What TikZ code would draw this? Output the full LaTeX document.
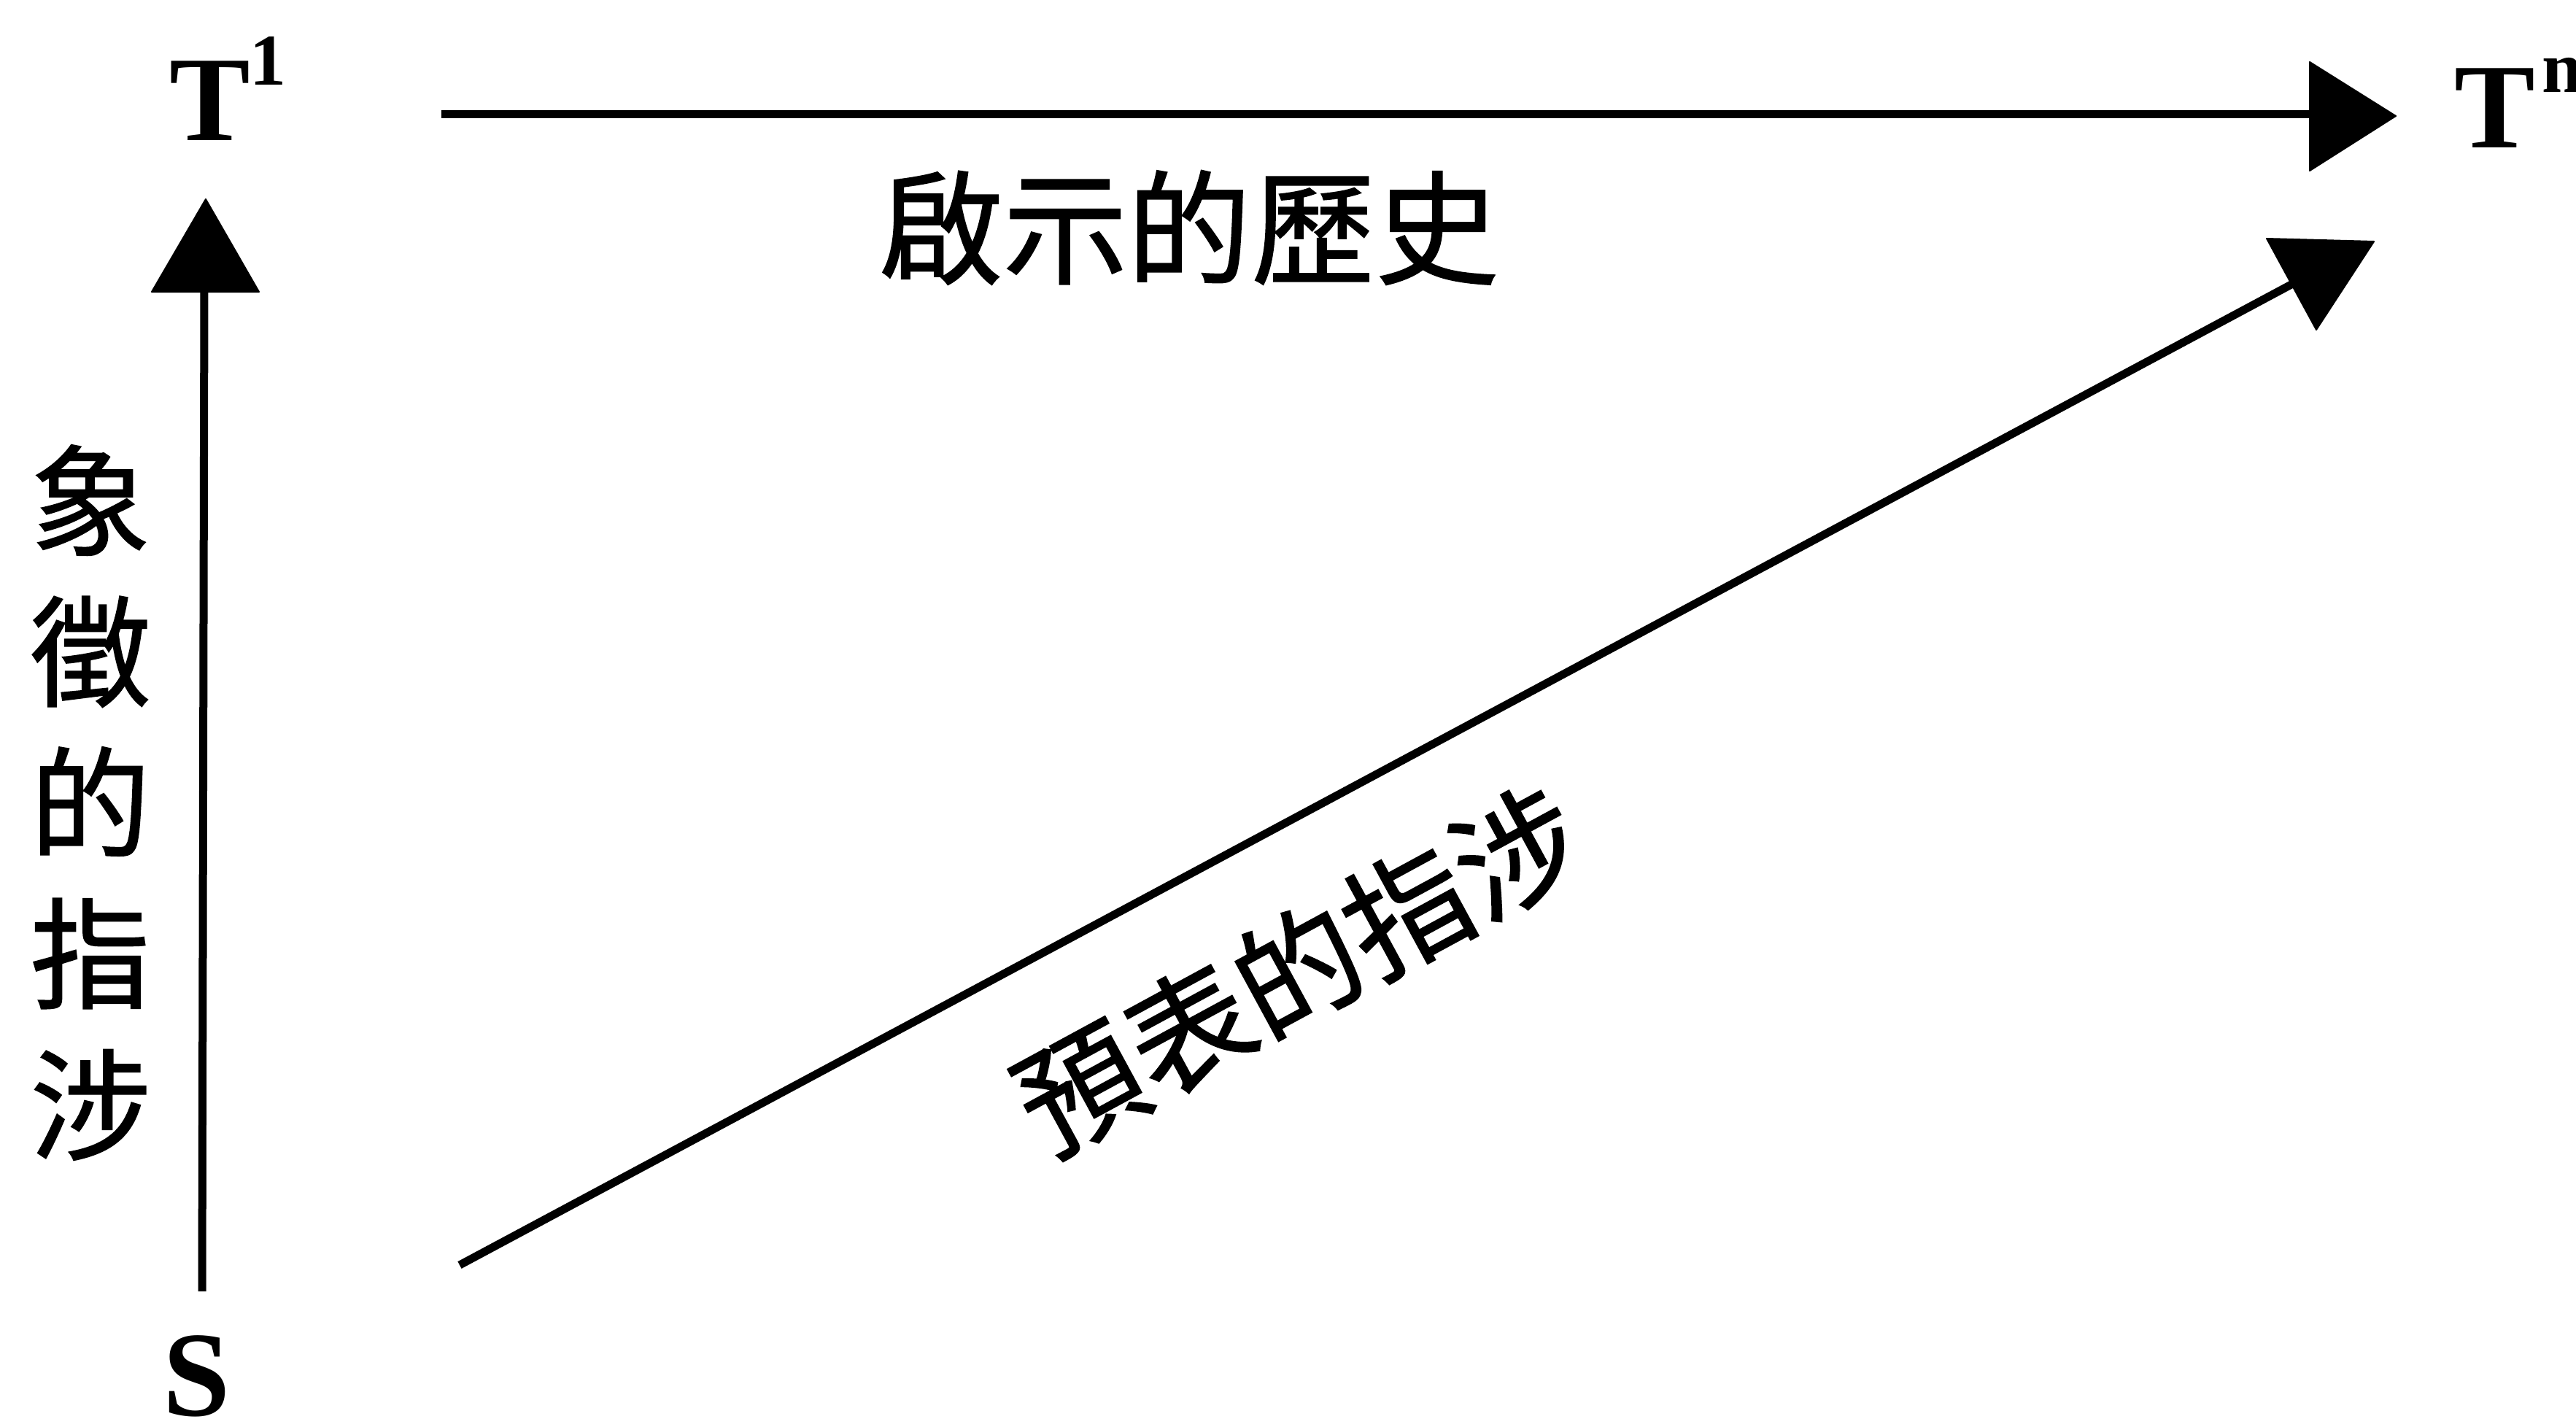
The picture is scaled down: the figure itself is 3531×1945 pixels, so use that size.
\documentclass[tikz,border=0pt]{standalone}
\usepackage{fontspec}
\setmainfont{Liberation Serif}
\newfontfamily\cjk[FakeBold=1]{Noto Sans CJK TC}
\begin{document}
\begin{tikzpicture}[x=1pt,y=-1pt,
  conn/.style={line width=11pt, black},
  headfill/.style={fill=black, draw=black, line width=2pt, line join=round},
  lat/.style={font=\fontsize{166}{166}\selectfont\bfseries, inner sep=0pt, anchor=base west},
  cjklabel/.style={font=\cjk\fontsize{170}{207}\selectfont, inner sep=0pt}]
\useasboundingbox[fill=white] (0,0) rectangle (3531,1945);
% letters
\node[lat] (T1) at (232,193) {T\raisebox{76pt}{\fontsize{100}{100}\selectfont 1}};
\node[lat] (Tn) at (3364,203) {T\hspace{10pt}\raisebox{76pt}{\fontsize{100}{100}\selectfont n}};
\node[lat, anchor=base] (S) at (270,1940) {S};
% labels
\node[cjklabel] (hist) at (1630,312) {啟示的歷史};
\node[cjklabel, align=center, font=\cjk\fontsize{165}{207}\selectfont] (sym) at (124,1100) {象\\徵\\的\\指\\涉};
\node[cjklabel, rotate=28.5] (typ) at (1779,1329) {預表的指涉};
% connector end points
\coordinate (h0) at (605,157);
\coordinate (h1) at (3172,157);
\coordinate (v0) at (277,1770);
\coordinate (v1) at (280,395);
\coordinate (d0) at (630,1734);
\coordinate (d1) at (3150,385);
% connectors
\draw[conn] (h0) -- (h1);
\draw[conn] (v0) -- (v1);
\draw[conn] (d0) -- (d1);
% arrowheads
\filldraw[headfill] (3166,85) -- (3284,159) -- (3166,234) -- cycle;
\filldraw[headfill] (208,400) -- (282,273) -- (355,400) -- cycle;
\filldraw[headfill] (3107,327) -- (3254,331) -- (3175,452) -- cycle;
\end{tikzpicture}
\end{document}
